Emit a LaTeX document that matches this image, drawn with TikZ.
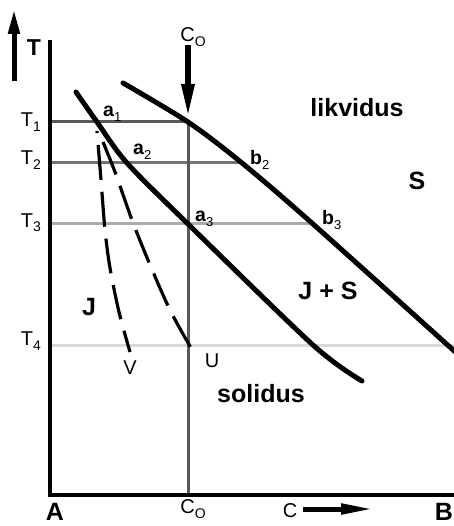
\documentclass[tikz,border=0pt]{standalone}
\usepackage{fontspec}
\setmainfont{Liberation Sans}
\usetikzlibrary{arrows.meta}
\newcommand{\lowsub}[2][14]{\raisebox{-5pt}{\mdseries\fontsize{#1}{#1}\selectfont #2}}
\begin{document}
\begin{tikzpicture}[x=1pt,y=-1pt,
 curve/.style={line width=5pt,line cap=round},
 dashcurve/.style={line width=3.2pt,dash pattern=on 35pt off 12pt},
 axis/.style={line width=3.5pt},
 gline/.style={line width=3pt},
 bigarrow/.style={line width=5pt,-{Triangle[length=25pt,width=11pt]}},
 lbl/.style={font=\fontsize{20}{20}\selectfont,inner sep=0pt},
 blbl/.style={font=\fontsize{25}{25}\selectfont\bfseries,inner sep=0pt},
 albl/.style={font=\fontsize{19.5}{19.5}\selectfont\bfseries,inner sep=0pt,anchor=base west},
]
\useasboundingbox (0,0) rectangle (453,526);
% key coordinates
\coordinate (O) at (50,495);
\coordinate (Ytop) at (50,40);
\coordinate (Xend) at (455,495);
\coordinate (T1l) at (50,122);
\coordinate (T2l) at (50,163);
\coordinate (T3l) at (50,224);
\coordinate (T4l) at (50,345);
\coordinate (T4r) at (455,345);
\coordinate (C0) at (188,122);
\coordinate (C0b) at (188,495);
\coordinate (b2) at (242,163);
\coordinate (b3) at (313,224);
\coordinate (a3) at (188,224);
% grey lines
\draw[gline,black!65] (T1l) -- (C0);
\draw[gline,black!55] (T2l) -- (b2);
\draw[gline,black!33] (T3l) -- (b3);
\draw[gline,black!15] (T4l) -- (T4r);
\draw[gline,black!65] (C0) -- (C0b);
% liquidus
\coordinate (L0) at (123,83);
\coordinate (L4) at (462,358);
\draw[curve] plot[smooth,tension=0.5] coordinates {(L0) (C0) (b2) (b3) (L4)};
% solidus
\coordinate (S0) at (76,92);
\coordinate (a1) at (97,122);
\coordinate (a2) at (127,163);
\coordinate (S4) at (313,345);
\coordinate (S5) at (362,381);
\draw[curve] plot[smooth,tension=0.5] coordinates {(S0) (a1) (a2) (a3) (S4) (S5)};
% dashed curves
\coordinate (V0) at (97,131);
\coordinate (V1) at (101,180);
\coordinate (V2) at (105,230);
\coordinate (V3) at (110,268);
\coordinate (V4) at (119,312);
\coordinate (V5) at (130,352);
\draw[dashcurve,dash phase=33pt] plot[smooth,tension=0.5] coordinates {(V0) (V1) (V2) (V3) (V4) (V5)};
\coordinate (U0) at (103,142);
\coordinate (U1) at (115,172);
\coordinate (U2) at (132,220);
\coordinate (U3) at (148,260);
\coordinate (U4) at (170,310);
\coordinate (U5) at (195,355);
\draw[dashcurve] plot[smooth,tension=0.5] coordinates {(U0) (U1) (U2) (U3) (U4) (U5)};
% axes
\draw[axis] (Ytop) -- (O) -- (Xend);
% arrows
\coordinate (TA0) at (14,81);
\coordinate (TA1) at (14,9);
\draw[bigarrow] (TA0) -- (TA1);
\coordinate (CA0) at (188,45);
\coordinate (CA1) at (188,118);
\draw[line width=6pt,-{Triangle[length=34pt,width=12pt]}] (CA0) -- (CA1);
\coordinate (XA0) at (303,509);
\coordinate (XA1) at (374,509);
\draw[line width=5pt,-{Triangle[length=33pt,width=10pt]}] (XA0) -- (XA1);
% labels
\node[font=\fontsize{23}{23}\selectfont\bfseries,inner sep=0pt,anchor=base] (Tlab) at (34,56) {T};
\node[lbl,anchor=base] (t1) at (31,127) {T\lowsub{1}};
\node[lbl,anchor=base] (t2) at (31,165) {T\lowsub{2}};
\node[lbl,anchor=base] (t3) at (31,227) {T\lowsub{3}};
\node[lbl,anchor=base] (t4) at (31,345) {T\lowsub{4}};
\node[lbl,anchor=base] (c0t) at (193,42) {C\lowsub{O}};
\node[lbl,anchor=base] (c0b) at (193,513) {C\lowsub{O}};
\node[lbl,anchor=base] (clab) at (290,517) {C};
\node[albl] (la1) at (103,117) {a\lowsub[13]{1}};
\node[albl] (la2) at (133,155) {a\lowsub[13]{2}};
\node[albl] (la3) at (195,222) {a\lowsub[13]{3}};
\node[albl] (lb2) at (250,165) {b\lowsub[13]{2}};
\node[albl] (lb3) at (322,225) {b\lowsub[13]{3}};
\node[lbl] (lU) at (212,361) {U};
\node[lbl] (lV) at (130,368) {V};
\node[blbl,anchor=base] (lik) at (357,117) {likvidus};
\node[blbl,anchor=base] (sol) at (261,402) {solidus};
\node[blbl] (lS) at (417,181) {S};
\node[blbl] (lJS) at (328,291) {J + S};
\node[blbl] (lJ) at (89,307) {J};
\node[blbl,anchor=base] (lA) at (55,520) {A};
\node[blbl,anchor=base] (lB) at (444,520) {B};
\end{tikzpicture}
\end{document}
